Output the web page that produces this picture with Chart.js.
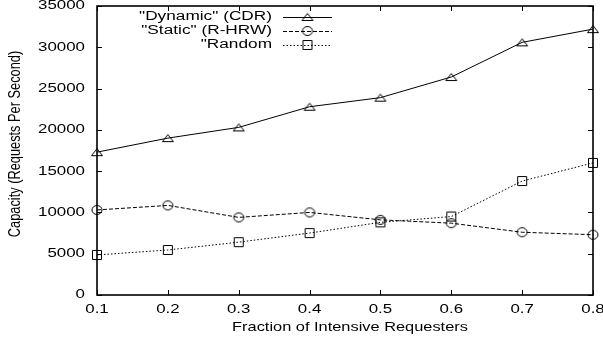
<!DOCTYPE html>
<html lang="en">
<head>
    <meta charset="UTF-8">
    <title>Capacity vs Fraction of Intensive Requesters</title>
    <script src="https://cdn.jsdelivr.net/npm/chart.js"></script>
    <style>
        body { margin: 0; background: #fff; }
        .wrap { position: relative; width: 603px; height: 343px; }
    </style>
</head>
<body>
    <div class="wrap"><canvas id="capacityChart"></canvas></div>
    <script>
        // values
        const fractions = [0.1, 0.2, 0.3, 0.4, 0.5, 0.6, 0.7, 0.8];
        const dynamicCDR = [17300, 19000, 20300, 22800, 23900, 26400, 30600, 32200];
        const staticRHRW = [10300, 10850, 9400, 10000, 9100, 8700, 7600, 7300];
        const randomReq = [4850, 5450, 6400, 7500, 8800, 9500, 13800, 16000];
        const seriesNames = ['"Dynamic" (CDR)', '"Static" (R-HRW)', '"Random'];
        const xTicks = [0.1, 0.2, 0.3, 0.4, 0.5, 0.6, 0.7, 0.8];
        const xTickLabels = ['0.1', '0.2', '0.3', '0.4', '0.5', '0.6', '0.7', '0.8'];
        const yTicks = [0, 5000, 10000, 15000, 20000, 25000, 30000, 35000];
        const xTitle = 'Fraction of Intensive Requesters';
        const yTitle = 'Capacity (Requests Per Second)';

        const FONT = '"Liberation Sans", Arial, sans-serif';

        // hollow gnuplot-ish markers (slightly wide, like the original)
        function makeMarker(kind) {
            const c = document.createElement('canvas');
            c.width = 14; c.height = 12;
            const g = c.getContext('2d');
            g.strokeStyle = '#000';
            g.lineWidth = 1;
            g.beginPath();
            if (kind === 'triangle') {
                g.moveTo(1.5, 9.5); g.lineTo(12.5, 9.5); g.lineTo(7, 2.5); g.closePath();
            } else if (kind === 'circle') {
                g.ellipse(7, 6, 5, 4.5, 0, 0, Math.PI * 2);
            } else {
                g.rect(2.5, 1.5, 9, 9);
            }
            g.stroke();
            return c;
        }
        const markers = [makeMarker('triangle'), makeMarker('circle'), makeMarker('square')];
        const dashes = [[], [4, 2], [1.5, 2]];

        function pts(vals) {
            return fractions.map((x, i) => ({ x: x, y: vals[i] }));
        }

        function stretchedText(ctx, text, x, y, align, sx, sy, rot) {
            ctx.save();
            ctx.translate(x, y);
            if (rot) ctx.rotate(rot);
            ctx.scale(sx, sy);
            ctx.textAlign = align;
            ctx.textBaseline = 'middle';
            ctx.fillText(text, 0, 0);
            ctx.restore();
        }

        const framePlugin = {
            id: 'frame',
            afterDraw(chart) {
                const ctx = chart.ctx;
                const a = chart.chartArea;
                const xs = chart.scales.x, ys = chart.scales.y;
                ctx.save();
                ctx.fillStyle = '#000';
                ctx.strokeStyle = '#000';

                // ticks on all four sides, pointing inwards
                ctx.lineWidth = 1;
                ctx.beginPath();
                xTicks.forEach(v => {
                    const px = Math.round(xs.getPixelForValue(v)) + 0.5;
                    ctx.moveTo(px, a.bottom); ctx.lineTo(px, a.bottom - 5);
                    ctx.moveTo(px, a.top); ctx.lineTo(px, a.top + 5);
                });
                yTicks.forEach(v => {
                    const py = Math.round(ys.getPixelForValue(v)) + 0.5;
                    ctx.moveTo(a.left, py); ctx.lineTo(a.left + 5, py);
                    ctx.moveTo(a.right, py); ctx.lineTo(a.right - 5, py);
                });
                ctx.stroke();

                // box
                ctx.lineWidth = 1.6;
                ctx.strokeRect(a.left, a.top, a.right - a.left, a.bottom - a.top);

                // tick labels
                ctx.font = '12.5px ' + FONT;
                yTicks.forEach(v => {
                    stretchedText(ctx, String(v), 85, ys.getPixelForValue(v), 'right', 1.35, 1);
                });
                xTicks.forEach((v, i) => {
                    stretchedText(ctx, xTickLabels[i], xs.getPixelForValue(v), 310, 'center', 1.35, 1);
                });

                // axis titles
                ctx.font = '13px ' + FONT;
                stretchedText(ctx, xTitle, 350, 327, 'center', 1.26, 1);
                ctx.font = '12.8px ' + FONT;
                stretchedText(ctx, yTitle, 15.5, 144, 'center', 1, 1.25, -Math.PI / 2);

                // legend, top left inside the box
                const rows = [17, 31, 45];
                ctx.font = '12.5px ' + FONT;
                seriesNames.forEach((name, i) => {
                    const y = rows[i];
                    stretchedText(ctx, name, 272, y, 'right', 1.38, 1);
                    ctx.save();
                    ctx.lineWidth = 1;
                    ctx.setLineDash(dashes[i]);
                    ctx.beginPath();
                    ctx.moveTo(283, y + 0.5); ctx.lineTo(332, y + 0.5);
                    ctx.stroke();
                    ctx.restore();
                    const m = markers[i];
                    ctx.drawImage(m, 307.5 - m.width / 2, y - m.height / 2);
                });
                ctx.restore();
            }
        };

        const seriesData = [dynamicCDR, staticRHRW, randomReq];
        const datasets = seriesData.map((vals, i) => ({
            label: seriesNames[i],
            data: pts(vals),
            borderColor: '#000',
            backgroundColor: 'transparent',
            borderWidth: 1,
            borderDash: dashes[i],
            pointStyle: markers[i],
            pointRadius: 5,
            tension: 0,
            clip: false
        }));

        new Chart(document.getElementById('capacityChart'), {
            type: 'line',
            data: { datasets: datasets },
            options: {
                responsive: true,
                maintainAspectRatio: false,
                animation: false,
                events: [],
                layout: { padding: { left: 0, right: 10, top: 6, bottom: 0 } },
                plugins: { legend: { display: false }, tooltip: { enabled: false } },
                scales: {
                    x: {
                        type: 'linear',
                        min: 0.1,
                        max: 0.8,
                        afterBuildTicks: s => { s.ticks = xTicks.map(v => ({ value: v })); },
                        afterFit: s => { s.height = 48; },
                        grid: { display: false },
                        border: { display: false },
                        ticks: { display: false }
                    },
                    y: {
                        min: 0,
                        max: 35000,
                        afterBuildTicks: s => { s.ticks = yTicks.map(v => ({ value: v })); },
                        afterFit: s => { s.width = 97; },
                        grid: { display: false },
                        border: { display: false },
                        ticks: { display: false }
                    }
                }
            },
            plugins: [framePlugin]
        });
    </script>
</body>
</html>
